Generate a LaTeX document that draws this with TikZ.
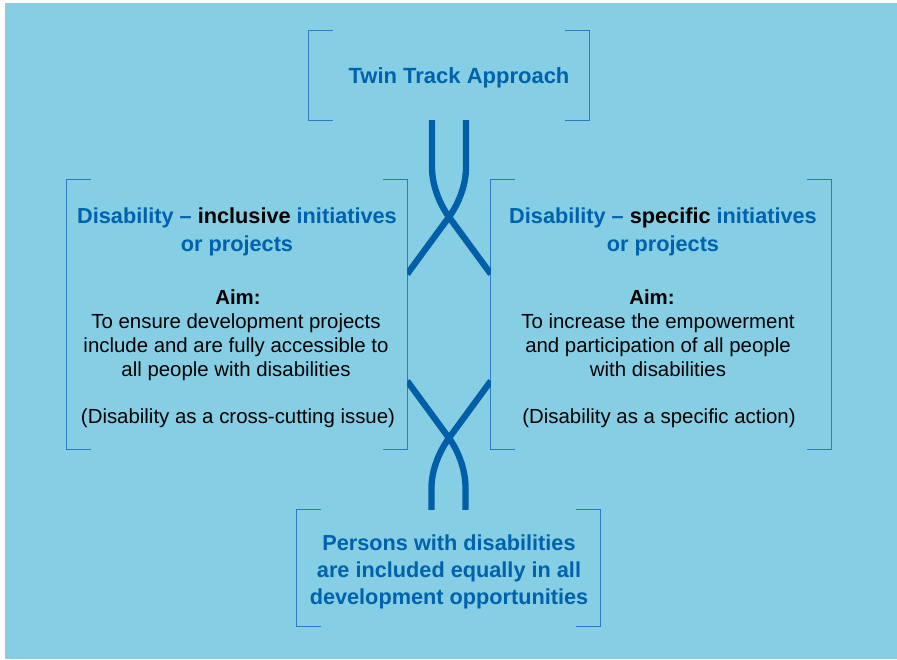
\documentclass[tikz,border=0pt]{standalone}
\usepackage{fontspec}
\setmainfont{Liberation Sans}
\definecolor{skyback}{HTML}{86CEE4}
\definecolor{trackblue}{HTML}{005FA8}
\definecolor{headblue}{HTML}{0062AD}
\definecolor{brackblue}{HTML}{2E7BC0}

% one bracket pair round a box node
\newcommand{\brackets}[1]{%
  \draw[bracket] ([xshift=24pt]#1.north west) -- (#1.north west) -- (#1.south west) -- ([xshift=24pt]#1.south west);
  \draw[bracket] ([xshift=-24pt]#1.north east) -- (#1.north east) -- (#1.south east) -- ([xshift=-24pt]#1.south east);}

\begin{document}
\begin{tikzpicture}[x=1pt,y=-1pt]
	\tikzset{
		box/.style={inner sep=0pt, minimum width=#1},
		bracket/.style={brackblue, line width=1.1pt},
		strand/.style={trackblue, line width=6.3pt},
		headtext/.style={headblue, font=\fontsize{21.7}{28}\selectfont\bfseries, align=center, inner sep=0pt, anchor=base},
		bodytext/.style={black, font=\fontsize{20.4}{24}\selectfont, align=center, inner sep=0pt, anchor=base}
	}
	\useasboundingbox (0,0) rectangle (897,659);
	\fill[skyback] (5,3) rectangle (897,659);
	% boxes
	\node[box=280pt, minimum height=89pt] (top) at (449,75.5) {};
	\node[box=340pt, minimum height=269pt] (lbox) at (237,314.5) {};
	\node[box=340pt, minimum height=269pt] (rbox) at (661,314.5) {};
	\node[box=303pt, minimum height=116pt] (bbox) at (448.5,568) {};
	\brackets{top}
	\brackets{lbox}
	\brackets{rbox}
	\brackets{bbox}
	% crossings
	\coordinate (upx) at (449,217);
	\coordinate (lox) at (449,438);
	\begin{scope}
		\clip (lbox.east |- top.south) rectangle (rbox.west |- bbox.north);
		\draw[strand] ([xshift=-17pt]top.south) -- ++(0,47) .. controls +(0,20) and +(-8,-11) .. (upx) -- (rbox.west |- 0,274);
		\draw[strand] ([xshift=17pt]top.south) -- ++(0,47) .. controls +(0,20) and +(8,-11) .. (upx) -- (lbox.east |- 0,274);
		\draw[strand] ([xshift=-17pt]bbox.north) -- ++(0,-22) .. controls +(0,-20) and +(-8,11) .. (lox) -- (rbox.west |- 0,381);
		\draw[strand] ([xshift=17pt]bbox.north) -- ++(0,-22) .. controls +(0,-20) and +(8,11) .. (lox) -- (lbox.east |- 0,381);
	\end{scope}
	% texts (base = baseline of the last line)
	\node[headtext, font=\fontsize{22}{28}\selectfont\bfseries] (title) at (459,83) {Twin Track Approach};
	\node[headtext] (lhead) at (237,251) {Disability -- {\color{black}inclusive} initiatives\\or projects};
	\node[bodytext, font=\fontsize{20.4}{24}\selectfont\bfseries] (laim) at (238,304) {Aim:};
	\node[bodytext] (lbody) at (236,376) {To ensure development projects\\include and are fully accessible to\\all people with disabilities};
	\node[bodytext] (lnote) at (238,423) {(Disability as a cross-cutting issue)};
	\node[headtext] (rhead) at (663,251) {Disability -- {\color{black}specific} initiatives\\or projects};
	\node[bodytext, font=\fontsize{20.4}{24}\selectfont\bfseries] (raim) at (652,304) {Aim:};
	\node[bodytext] (rbody) at (658,376) {To increase the empowerment\\and participation of all people\\with disabilities};
	\node[bodytext] (rnote) at (659,423) {(Disability as a specific action)};
	\node[headtext, font=\fontsize{21.7}{27}\selectfont\bfseries] (btext) at (449,604) {Persons with disabilities\\are included equally in all\\development opportunities};
\end{tikzpicture}
\end{document}
